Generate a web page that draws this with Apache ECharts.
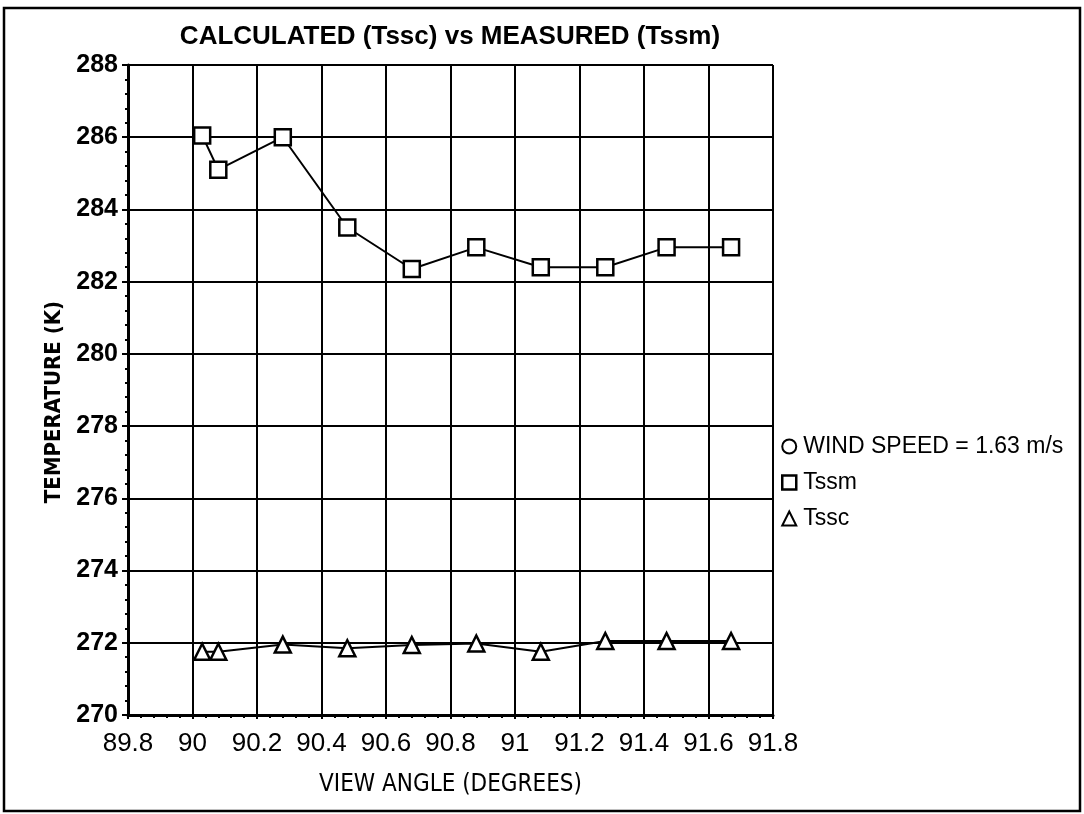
<!DOCTYPE html>
<html>
<head>
<meta charset="utf-8">
<script src="https://cdn.jsdelivr.net/npm/echarts@6/dist/echarts.min.js"></script>
<style>
  html, body { margin: 0; padding: 0; background: #fff; }
  #chart { width: 1084px; height: 814px; }
</style>
</head>
<body>
<div id="chart"></div>
<script>
// view angle (degrees)
var angles = [90.03, 90.08, 90.28, 90.48, 90.68, 90.88, 91.08, 91.28, 91.47, 91.67];
// measured temperature (K)
var tssm = [286.05, 285.1, 286.0, 283.5, 282.35, 282.95, 282.4, 282.4, 282.95, 282.95];
// calculated temperature (K)
var tssc = [271.75, 271.75, 271.95, 271.85, 271.94, 271.98, 271.75, 272.05, 272.05, 272.05];

var windLabel = 'WIND SPEED = 1.63 m/s';
var sans = '"Liberation Sans", Arial, sans-serif';
var narrow = '"Liberation Sans Narrow", "DejaVu Sans Condensed", sans-serif';

function pairs(xs, ys) {
    var out = [];
    for (var i = 0; i < xs.length; i++) {
        out.push([xs[i], ys[i]]);
    }
    return out;
}

var chart = echarts.init(document.getElementById('chart'));

var option = {
    animation: false,
    backgroundColor: '#fff',
    title: {
        text: 'CALCULATED (Tssc) vs MEASURED (Tssm)',
        left: 450,
        textAlign: 'center',
        top: 24,
        padding: 0,
        textStyle: { fontFamily: sans, fontWeight: 'bold', fontSize: 26, color: '#000' }
    },
    grid: { left: 128, right: 311, top: 65, bottom: 99 },
    legend: {
        orient: 'vertical',
        left: 781,
        top: 435,
        padding: 0,
        itemGap: 13,
        itemWidth: 14,
        itemHeight: 14,
        textStyle: { fontFamily: sans, fontSize: 23, color: '#000', padding: [0, 0, 0, 2] },
        data: [
            { name: windLabel, icon: 'circle', itemStyle: { color: '#fff', borderColor: '#000', borderWidth: 2 } },
            { name: 'Tssm', icon: 'rect', itemStyle: { color: '#fff', borderColor: '#000', borderWidth: 2.5 } },
            { name: 'Tssc', icon: 'triangle', itemStyle: { color: '#fff', borderColor: '#000', borderWidth: 2 } }
        ]
    },
    xAxis: {
        type: 'value',
        min: 89.8,
        max: 91.8,
        interval: 0.2,
        name: 'VIEW ANGLE (DEGREES)',
        nameLocation: 'middle',
        nameGap: 58,
        nameTextStyle: { fontFamily: narrow, fontSize: 24, color: '#000' },
        axisLine: { lineStyle: { color: '#000', width: 3 } },
        axisTick: { show: true, length: 4, lineStyle: { color: '#000', width: 2 } },
        minorTick: { show: true, splitNumber: 5, length: 3, lineStyle: { color: '#000', width: 2 } },
        axisLabel: {
            fontFamily: sans, fontSize: 26, color: '#000', margin: 16,
            formatter: function (v) { return String(Math.round(v * 10) / 10); }
        },
        splitLine: { show: true, lineStyle: { color: '#000', width: 2 } }
    },
    yAxis: {
        type: 'value',
        min: 270,
        max: 288,
        interval: 2,
        name: 'TEMPERATURE (K)',
        nameLocation: 'middle',
        nameGap: 52,
        nameTextStyle: { fontFamily: narrow, fontSize: 22, fontWeight: 'bold', color: '#000', padding: [0, 24, 0, 0] },
        axisLine: { show: true, lineStyle: { color: '#000', width: 3 } },
        axisTick: { show: true, length: 6, lineStyle: { color: '#000', width: 2 } },
        minorTick: { show: true, splitNumber: 5, length: 3, lineStyle: { color: '#000', width: 2 } },
        axisLabel: { fontFamily: sans, fontSize: 25, fontWeight: 'bold', color: '#000', margin: 10 },
        splitLine: { show: true, lineStyle: { color: '#000', width: 2 } }
    },
    series: [
        {
            name: windLabel,
            type: 'line',
            data: []
        },
        {
            name: 'Tssm',
            type: 'line',
            data: pairs(angles, tssm),
            symbol: 'rect',
            symbolSize: 16,
            itemStyle: { color: '#fff', borderColor: '#000', borderWidth: 2.5 },
            lineStyle: { color: '#000', width: 2 },
            z: 5
        },
        {
            name: 'Tssc',
            type: 'line',
            data: pairs(angles, tssc),
            symbol: 'triangle',
            symbolSize: 16,
            itemStyle: { color: '#fff', borderColor: '#000', borderWidth: 2.5 },
            lineStyle: { color: '#000', width: 2 },
            z: 5
        }
    ],
    graphic: [
        {
            type: 'rect',
            shape: { x: 4, y: 8, width: 1076, height: 803 },
            style: { fill: 'none', stroke: '#000', lineWidth: 2.5 },
            silent: true
        }
    ]
};

chart.setOption(option);
</script>
</body>
</html>
